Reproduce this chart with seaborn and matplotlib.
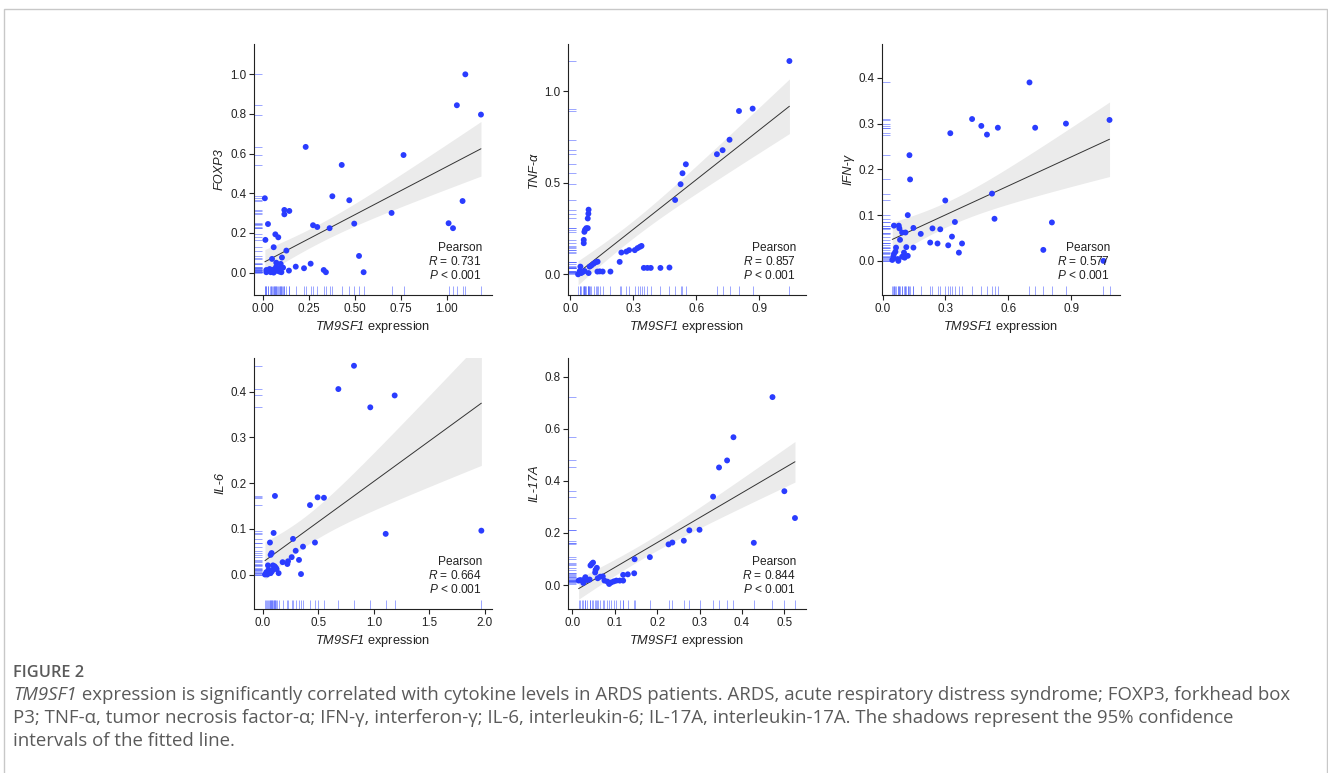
import matplotlib
matplotlib.use("Agg")
import matplotlib.pyplot as plt
import seaborn as sns
import numpy as np
import pandas as pd
from matplotlib.patches import Rectangle

# ---- data (TM9SF1 expression vs cytokine) ----
foxp3_x = [0.010, 0.013, 0.027, 0.067, 0.083, 0.058, 0.116, 0.116, 0.143, 0.127, 0.103, 0.049,
           0.072, 0.096, 0.018, 0.027, 0.036, 0.045, 0.054, 0.063, 0.076, 0.087, 0.094, 0.109,
           0.018, 0.042, 0.058, 0.100, 0.072, 0.090, 0.141, 0.178, 0.223, 0.232, 0.259, 0.272,
           0.295, 0.362, 0.377, 0.330, 0.342, 0.428, 0.469, 0.496, 0.522, 0.547, 0.699, 0.764,
           1.009, 1.033, 1.054, 1.085, 1.100, 1.185]
foxp3_y = [0.375, 0.165, 0.245, 0.193, 0.178, 0.128, 0.316, 0.294, 0.311, 0.111, 0.076, 0.069,
           0.050, 0.044, 0.013, 0.010, 0.018, 0.005, 0.013, 0.018, 0.009, 0.013, 0.022, 0.025,
           0.002, 0.002, 0.000, 0.002, 0.030, 0.005, 0.010, 0.030, 0.022, 0.634, 0.045, 0.239,
           0.230, 0.224, 0.385, 0.013, 0.002, 0.543, 0.365, 0.247, 0.084, 0.002, 0.301, 0.593,
           0.249, 0.224, 0.844, 0.361, 1.000, 0.797]

tnf_x = [1.043, 0.868, 0.803, 0.758, 0.725, 0.698, 0.550, 0.534, 0.525, 0.499, 0.087, 0.086,
         0.083, 0.076, 0.083, 0.070, 0.067, 0.064, 0.064, 0.235, 0.243, 0.267, 0.280, 0.307,
         0.320, 0.331, 0.339, 0.350, 0.367, 0.383, 0.429, 0.472, 0.191, 0.154, 0.140, 0.129,
         0.100, 0.111, 0.121, 0.130, 0.092, 0.087, 0.037, 0.048, 0.052, 0.060, 0.068, 0.045]
tnf_y = [1.165, 0.905, 0.892, 0.735, 0.678, 0.656, 0.601, 0.552, 0.492, 0.406, 0.353, 0.331,
         0.305, 0.252, 0.252, 0.243, 0.232, 0.188, 0.170, 0.068, 0.119, 0.124, 0.132, 0.132,
         0.143, 0.150, 0.155, 0.035, 0.035, 0.035, 0.035, 0.037, 0.015, 0.015, 0.016, 0.015,
         0.048, 0.058, 0.066, 0.069, 0.042, 0.007, 0.000, 0.042, 0.007, 0.013, 0.018, 0.018]

ifng_x = [0.701, 0.427, 0.471, 0.498, 0.550, 0.728, 0.875, 1.083, 0.323, 0.128, 0.131, 0.299,
          0.522, 0.534, 0.808, 0.767, 1.054, 0.120, 0.345, 0.331, 0.379, 0.313, 0.262, 0.227,
          0.238, 0.275, 0.364, 0.182, 0.147, 0.147, 0.113, 0.120, 0.054, 0.077, 0.080, 0.093,
          0.109, 0.083, 0.064, 0.061, 0.054, 0.051, 0.046, 0.072, 0.075, 0.093, 0.102, 0.105]
ifng_y = [0.390, 0.310, 0.295, 0.276, 0.291, 0.291, 0.300, 0.308, 0.279, 0.231, 0.178, 0.132,
          0.147, 0.092, 0.084, 0.024, 0.000, 0.100, 0.085, 0.053, 0.038, 0.034, 0.038, 0.040,
          0.071, 0.069, 0.018, 0.059, 0.072, 0.029, 0.030, 0.011, 0.077, 0.077, 0.071, 0.062,
          0.062, 0.046, 0.029, 0.020, 0.015, 0.009, 0.002, 0.004, 0.000, 0.009, 0.018, 0.007]

il6_x = [0.821, 0.680, 1.188, 0.968, 0.108, 0.493, 0.550, 0.424, 1.107, 1.970, 0.096, 0.271,
         0.469, 0.361, 0.063, 0.069, 0.078, 0.295, 0.259, 0.325, 0.226, 0.220, 0.177, 0.343,
         0.141, 0.123, 0.105, 0.090, 0.045, 0.030, 0.060, 0.081, 0.018, 0.039, 0.069, 0.050,
         0.100, 0.115]
il6_y = [0.457, 0.406, 0.392, 0.366, 0.172, 0.169, 0.168, 0.152, 0.089, 0.096, 0.091, 0.078,
         0.070, 0.061, 0.070, 0.043, 0.047, 0.052, 0.038, 0.032, 0.029, 0.023, 0.027, 0.001,
         0.003, 0.012, 0.018, 0.020, 0.020, 0.005, 0.009, 0.007, 0.000, 0.000, 0.003, 0.010,
         0.012, 0.015]

il17_x = [0.472, 0.380, 0.365, 0.346, 0.332, 0.500, 0.525, 0.428, 0.300, 0.276, 0.263, 0.236,
          0.227, 0.183, 0.147, 0.146, 0.131, 0.120, 0.120, 0.112, 0.104, 0.098, 0.092, 0.087,
          0.083, 0.076, 0.072, 0.066, 0.060, 0.058, 0.055, 0.054, 0.049, 0.046, 0.043, 0.041,
          0.035, 0.030, 0.024, 0.019, 0.015, 0.026, 0.031]
il17_y = [0.721, 0.567, 0.478, 0.451, 0.339, 0.360, 0.257, 0.162, 0.212, 0.210, 0.170, 0.163,
          0.156, 0.107, 0.099, 0.045, 0.041, 0.039, 0.017, 0.017, 0.017, 0.014, 0.010, 0.004,
          0.013, 0.017, 0.033, 0.032, 0.026, 0.066, 0.058, 0.048, 0.086, 0.081, 0.075, 0.021,
          0.019, 0.024, 0.017, 0.019, 0.017, 0.008, 0.030]

panel_names = ["FOXP3", "TNF-α", "IFN-γ", "IL-6", "IL-17A"]
panel_r = ["0.731", "0.857", "0.577", "0.664", "0.844"]
panel_p = ["< 0.001", "< 0.001", "< 0.001", "< 0.001", "< 0.001"]
x_ticks = [[0, 0.25, 0.5, 0.75, 1.0], [0, 0.3, 0.6, 0.9], [0, 0.3, 0.6, 0.9],
           [0, 0.5, 1.0, 1.5, 2.0], [0, 0.1, 0.2, 0.3, 0.4, 0.5]]
x_fmt = ["{:.2f}", "{:.1f}", "{:.1f}", "{:.1f}", "{:.1f}"]
y_ticks = [[0, 0.2, 0.4, 0.6, 0.8, 1.0], [0, 0.5, 1.0], [0, 0.1, 0.2, 0.3, 0.4],
           [0, 0.1, 0.2, 0.3, 0.4], [0, 0.2, 0.4, 0.6, 0.8]]
x_lims = [(-0.049, 1.245), (-0.011, 1.122), (-0.003, 1.133), (-0.081, 2.066), (-0.010, 0.551)]
y_lims = [(-0.113, 1.153), (-0.113, 1.258), (-0.0746, 0.474), (-0.0755, 0.474), (-0.092, 0.871)]

xs = [foxp3_x, tnf_x, ifng_x, il6_x, il17_x]
ys = [foxp3_y, tnf_y, ifng_y, il6_y, il17_y]

sns.set_style("white")
plt.rcParams["font.family"] = ["Liberation Sans", "DejaVu Sans"]
plt.rcParams["mathtext.fontset"] = "custom"
plt.rcParams["mathtext.rm"] = "Liberation Sans"
plt.rcParams["mathtext.it"] = "Liberation Sans:italic"
plt.rcParams["mathtext.sf"] = "Liberation Sans:italic"

fig = plt.figure(figsize=(13.28, 7.73), dpi=100)
W, H = 1328, 773

# outer frame
fig.patches.append(Rectangle((4 / W, -0.02), (1327 - 4) / W, 1 - 9 / H + 0.02,
                             transform=fig.transFigure, fill=False,
                             edgecolor="#c8c8c8", linewidth=1.0))

lefts = [254, 568, 882, 254, 568]
tops = [44, 44, 44, 358, 358]
aw, ah = 238, 251

point_col = "#2a3cff"
txt_col = "#222222"
for i in range(5):
    ax = fig.add_axes([lefts[i] / W, 1 - (tops[i] + ah) / H, aw / W, ah / H])
    df = pd.DataFrame({"x": xs[i], "y": ys[i]})

    # 95% confidence band of the OLS fit
    x = np.asarray(xs[i]); y = np.asarray(ys[i]); n = len(x)
    b1, b0 = np.polyfit(x, y, 1)
    resid = y - (b0 + b1 * x)
    s = np.sqrt(np.sum(resid ** 2) / (n - 2))
    grid = np.linspace(x.min(), x.max(), 200)
    se = s * np.sqrt(1 / n + (grid - x.mean()) ** 2 / np.sum((x - x.mean()) ** 2))
    fit = b0 + b1 * grid
    ax.fill_between(grid, fit - 2.02 * se, fit + 2.02 * se, color="#ebebeb",
                    linewidth=0, zorder=1)

    sns.regplot(data=df, x="x", y="y", ax=ax, scatter=False, ci=None,
                line_kws=dict(color="#333333", linewidth=0.7, zorder=2))
    sns.scatterplot(data=df, x="x", y="y", ax=ax, color=point_col, s=18,
                    edgecolor="none", zorder=3)
    sns.rugplot(data=df, x="x", y="y", ax=ax, height=0.035, color="#4a5cff",
                alpha=0.55, linewidth=0.7)
    ax.set_xlim(*x_lims[i])
    ax.set_ylim(*y_lims[i])
    ax.set_xticks(x_ticks[i])
    ax.set_xticklabels([x_fmt[i].format(v) for v in x_ticks[i]])
    ax.set_yticks(y_ticks[i])
    ax.set_yticklabels(["{:.1f}".format(v) for v in y_ticks[i]])
    sns.despine(ax=ax)
    for sp in ["left", "bottom"]:
        ax.spines[sp].set_linewidth(0.8)
        ax.spines[sp].set_color(txt_col)
    ax.tick_params(axis="both", length=3.5, width=0.8, color=txt_col,
                   labelsize=8.4, labelcolor=txt_col, pad=2, direction="out",
                   bottom=True, left=True)
    ax.set_xlabel(r"$\mathsf{TM9SF1}$ expression", fontsize=9.2, color=txt_col, labelpad=3)
    ax.set_ylabel(panel_names[i], fontsize=9.2, style="italic", color=txt_col, labelpad=3)
    ax.text(0.957, 0.187, "Pearson", transform=ax.transAxes, ha="right", va="center",
            fontsize=8.6, color=txt_col, zorder=5)
    ax.text(0.957, 0.133, r"$\mathit{R}$ = " + panel_r[i], transform=ax.transAxes,
            ha="right", va="center", fontsize=8.6, color=txt_col, zorder=5)
    ax.text(0.957, 0.076, r"$\mathit{P}$ " + panel_p[i], transform=ax.transAxes,
            ha="right", va="center", fontsize=8.6, color=txt_col, zorder=5)

# caption
cap_col = "#5a5a5a"
cap_fam = ["Open Sans", "DejaVu Sans"]
cap_fs = 13.4
fig.text(13 / W, 1 - 673 / H, "FIGURE 2", fontsize=11.8, color=cap_col, weight="semibold",
         family=cap_fam, va="center", ha="left")
renderer = fig.canvas.get_renderer()
t_it = fig.text(13 / W, 1 - 695 / H, "TM9SF1", fontsize=cap_fs, color=cap_col, style="italic",
                family=cap_fam, va="center", ha="left")
bb = t_it.get_window_extent(renderer=renderer)
fig.text(bb.x1 / W, 1 - 695 / H,
         " expression is significantly correlated with cytokine levels in ARDS patients. "
         "ARDS, acute respiratory distress syndrome; FOXP3, forkhead box",
         fontsize=cap_fs, color=cap_col, family=cap_fam, va="center", ha="left")
fig.text(13 / W, 1 - 718 / H,
         "P3; TNF-α, tumor necrosis factor-α; IFN-γ, interferon-γ; IL-6, interleukin-6; "
         "IL-17A, interleukin-17A. The shadows represent the 95% confidence",
         fontsize=cap_fs, color=cap_col, family=cap_fam, va="center", ha="left")
fig.text(13 / W, 1 - 741 / H, "intervals of the fitted line.",
         fontsize=cap_fs, color=cap_col, family=cap_fam, va="center", ha="left")

fig.savefig("out.png", dpi=100, facecolor="white")
